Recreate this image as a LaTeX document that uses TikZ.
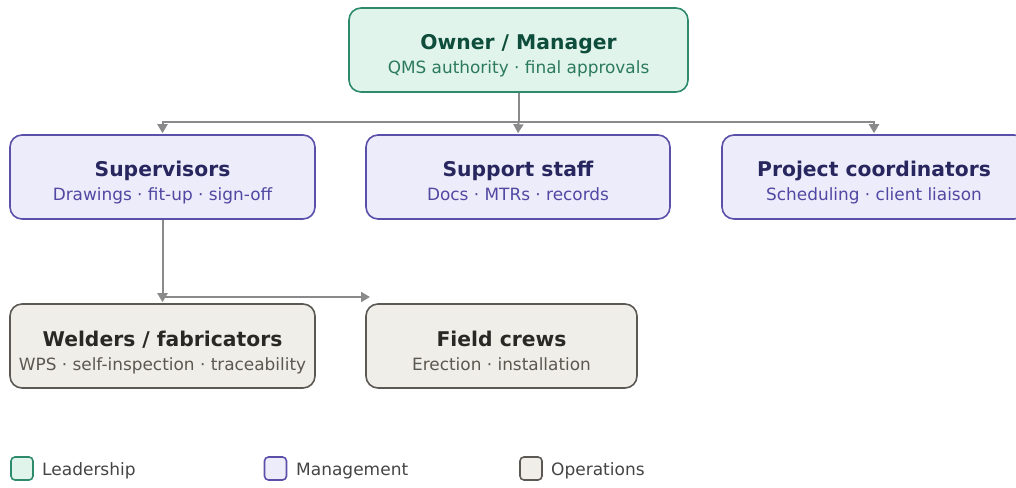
\documentclass[tikz,border=0pt]{standalone}
\usepackage{fontspec}
\setmainfont{DejaVu Sans}
\usetikzlibrary{arrows.meta}
\definecolor{leadfill}{HTML}{E1F4EC}
\definecolor{leaddraw}{HTML}{2E8A6C}
\definecolor{leadtitle}{HTML}{0E4D3B}
\definecolor{leadsub}{HTML}{2C7A5E}
\definecolor{mgmtfill}{HTML}{ECECFA}
\definecolor{mgmtdraw}{HTML}{5A50AA}
\definecolor{mgmttitle}{HTML}{28265E}
\definecolor{mgmtsub}{HTML}{5048A2}
\definecolor{opsfill}{HTML}{F0EEE8}
\definecolor{opsdraw}{HTML}{5C5954}
\definecolor{opstitle}{HTML}{2A2825}
\definecolor{opssub}{HTML}{5B5852}
\definecolor{conn}{HTML}{8A8A8A}
\definecolor{legtext}{HTML}{444444}
\tikzset{
  box/.style={rounded corners=12pt, line width=1.6pt, inner sep=0pt, minimum height=84pt},
  lead/.style={box, fill=leadfill, draw=leaddraw},
  mgmt/.style={box, fill=mgmtfill, draw=mgmtdraw},
  ops/.style={box, fill=opsfill, draw=opsdraw},
  ttl/.style={anchor=base, inner sep=0pt, font=\fontsize{20.3}{24}\selectfont\bfseries},
  sub/.style={anchor=base, inner sep=0pt, font=\fontsize{16.9}{20}\selectfont},
  line/.style={draw=conn, line width=2pt},
  arr/.style={line, -{Triangle[length=9pt,width=10pt]}, shorten >=1pt},
  legbox/.style={rounded corners=4pt, line width=1.6pt, minimum width=22pt, minimum height=23pt, inner sep=0pt},
  legtxt/.style={anchor=base west, inner sep=0pt, text=legtext, font=\fontsize{17}{20}\selectfont},
}
\begin{document}
\begin{tikzpicture}[x=1pt,y=-1pt]
\useasboundingbox (0,0) rectangle (1016,487);
% boxes
\node[lead, minimum width=339pt] (owner) at (518.5,50) {};
\node[ttl, text=leadtitle] (ownert) at (518.5,49) {Owner / Manager};
\node[sub, text=leadsub] (owners) at (518.5,74) {QMS authority · final approvals};

\node[mgmt, minimum width=305pt] (sup) at (162.5,177) {};
\node[ttl, text=mgmttitle] (supt) at (162.5,176.5) {Supervisors};
\node[sub, text=mgmtsub] (sups) at (162.5,200) {Drawings · fit-up · sign-off};

\node[mgmt, minimum width=304pt] (sst) at (518,177) {};
\node[ttl, text=mgmttitle] (sstt) at (518,176.5) {Support staff};
\node[sub, text=mgmtsub] (ssts) at (518,200) {Docs · MTRs · records};

\node[mgmt, minimum width=304pt] (pc) at (874,177) {};
\node[ttl, text=mgmttitle] (pct) at (874,176.5) {Project coordinators};
\node[sub, text=mgmtsub] (pcs) at (874,200) {Scheduling · client liaison};

\node[ops, minimum width=305pt] (wf) at (162.5,346) {};
\node[ttl, text=opstitle] (wft) at (162.5,346.5) {Welders / fabricators};
\node[sub, text=opssub] (wfs) at (162.5,370) {WPS · self-inspection · traceability};

\node[ops, minimum width=271pt] (fc) at (501.5,346) {};
\node[ttl, text=opstitle] (fct) at (501.5,346.5) {Field crews};
\node[sub, text=opssub] (fcs) at (501.5,370) {Erection · installation};

% connectors
\coordinate (bus) at (518.5,122);
\draw[line] (owner.south) -- (bus);
\draw[arr] (bus) -| (sup.north);
\draw[arr] (bus) -- (sst.north);
\draw[arr] (bus) -| (pc.north);

\coordinate (split) at (162.5,297);
\coordinate (fcend) at (371,297);
\draw[arr] (sup.south) -- (wf.north);
\draw[arr] (split) -- (fcend);

% legend
\node[legbox, fill=leadfill, draw=leaddraw] (lg1) at (22,468.5) {};
\node[legtxt] (lt1) at (42,475) {Leadership};
\node[legbox, fill=mgmtfill, draw=mgmtdraw] (lg2) at (275.5,468.5) {};
\node[legtxt] (lt2) at (296,475) {Management};
\node[legbox, fill=opsfill, draw=opsdraw] (lg3) at (531,468.5) {};
\node[legtxt] (lt3) at (551,475) {Operations};
\end{tikzpicture}
\end{document}
